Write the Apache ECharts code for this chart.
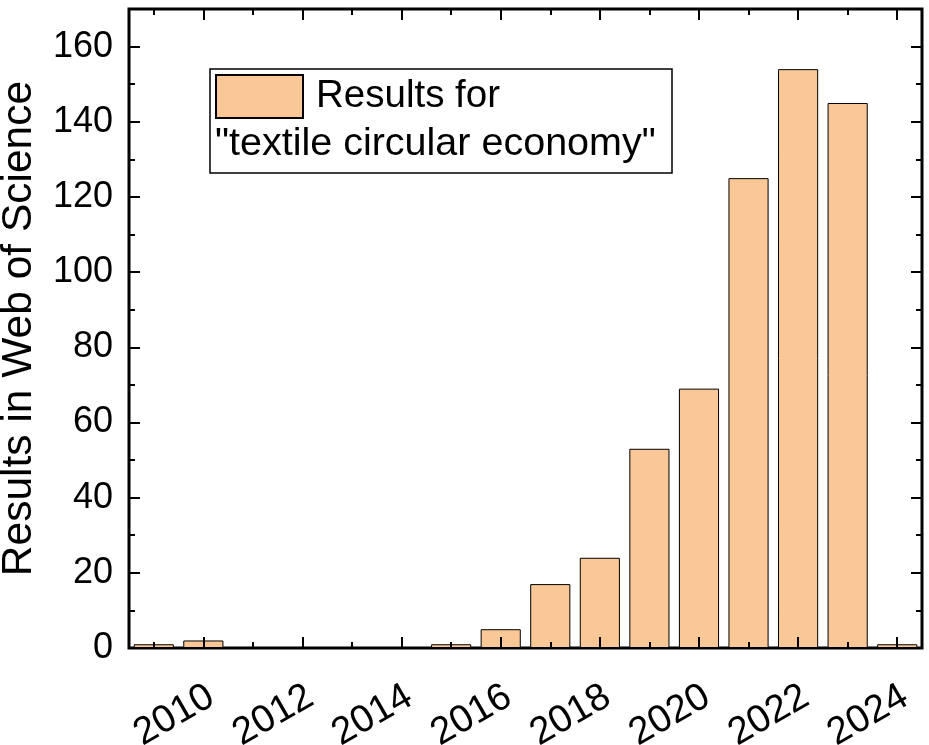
<!DOCTYPE html>
<html>
<head>
<meta charset="utf-8">
<script src="https://cdn.jsdelivr.net/npm/echarts@6/dist/echarts.min.js"></script>
<style>
html,body{margin:0;padding:0;background:#fff;}
#chart{width:929px;height:745px;}
</style>
</head>
<body>
<div id="chart"></div>
<script>
const years = ['2009','2010','2011','2012','2013','2014','2015','2016','2017','2018','2019','2020','2021','2022','2023','2024'];
const results = [1, 2, 0, 0, 0, 0, 1, 5, 17, 24, 53, 69, 125, 154, 145, 1];
const seriesName = 'Results for';
const legendSecondLine = '"textile circular economy"';
const yTitle = 'Results in Web of Science';

const FONT = '"Liberation Sans", Arial, sans-serif';
const evenYear = (i, v) => Number(v) % 2 === 0;

// plot layout
const W = 929, L = 129, R = 7, T = 9, B = 97;
const band = (W - L - R) / years.length;

const chart = echarts.init(document.getElementById('chart'), null, {renderer: 'canvas'});

// tick-only value axes living in helper grids that span year centres
function xTicks(pos, grid, max, interval, len) {
  return {
    type: 'value', gridIndex: grid, position: pos, min: 0, max: max, interval: interval, z: 3,
    axisLine: {show: false, onZero: false},
    axisTick: {show: true, inside: true, length: len, lineStyle: {color: '#000', width: 2}},
    axisLabel: {show: false},
    splitLine: {show: false}
  };
}
function yAx(pos, major, labels) {
  const a = {
    type: 'value', min: 0, max: 170, interval: major ? 20 : 10, position: pos,
    axisLine: {show: false, onZero: false},
    axisTick: {show: true, inside: true, length: major ? 11 : 6, lineStyle: {color: '#000', width: 2}},
    axisLabel: labels ? {show: true, fontSize: 36, fontFamily: FONT, color: '#000', margin: 16,
      formatter: (v) => (v % 20 === 0 && v <= 160) ? String(v) : ''} : {show: false},
    splitLine: {show: false}
  };
  if (labels) {
    a.name = yTitle;
    a.nameLocation = 'middle';
    a.nameGap = 88;
    a.nameTextStyle = {fontSize: 42.5, fontFamily: FONT, color: '#000'};
  }
  return a;
}
const hiddenY = (g) => ({type: 'value', min: 0, max: 170, gridIndex: g, show: false});
const gridBase = {top: T, bottom: B, containLabel: false, outerBoundsMode: 'none', show: false};

chart.setOption({
  animation: false,
  backgroundColor: '#fff',
  grid: [
    // 0: main plot
    Object.assign({}, gridBase, {left: L, right: R, show: true, borderColor: '#000', borderWidth: 3, backgroundColor: 'transparent'}),
    // 1: label-only grid, same scale, nudged so the rotated year labels sit like the original
    Object.assign({}, gridBase, {left: L + 8, right: R - 8}),
    // 2: major ticks, from the 2010 centre to the 2024 centre
    Object.assign({}, gridBase, {left: L + 1.5 * band, right: R + 0.5 * band}),
    // 3: minor ticks, from the 2009 centre to the 2024 centre
    Object.assign({}, gridBase, {left: L + 0.5 * band, right: R + 0.5 * band})
  ],
  legend: {
    show: true, left: 210, top: 69, orient: 'vertical',
    padding: [5, 172, 54, 5],
    borderColor: '#000', borderWidth: 1.5, backgroundColor: '#fff',
    itemWidth: 87, itemHeight: 43, icon: 'rect', selectedMode: false,
    textStyle: {fontSize: 38.5, fontFamily: FONT, color: '#000', padding: [0, 0, 0, 8]},
    data: [seriesName]
  },
  graphic: [{
    type: 'text', left: 215, top: 124, z: 100,
    style: {text: legendSecondLine, fontSize: 39.5, fontFamily: FONT, fill: '#000'}
  }],
  xAxis: [
    {type: 'category', data: years, position: 'bottom', boundaryGap: true, gridIndex: 0,
      axisLine: {show: false, onZero: false}, axisTick: {show: false}, axisLabel: {show: false}, splitLine: {show: false}},
    {type: 'category', data: years, position: 'bottom', boundaryGap: true, gridIndex: 1,
      axisLine: {show: false, onZero: false}, axisTick: {show: false}, splitLine: {show: false},
      axisLabel: {show: true, interval: evenYear, rotate: 30, fontSize: 38.5, fontFamily: FONT,
        color: '#000', margin: 46}},
    xTicks('bottom', 2, years.length - 2, 2, 11),
    xTicks('top', 2, years.length - 2, 2, 11),
    xTicks('bottom', 3, years.length - 1, 1, 6),
    xTicks('top', 3, years.length - 1, 1, 6)
  ],
  yAxis: [
    yAx('left', true, true), yAx('left', false, false), yAx('right', true, false), yAx('right', false, false),
    hiddenY(1), hiddenY(2), hiddenY(3)
  ],
  series: [{
    name: seriesName, type: 'bar', data: results, xAxisIndex: 0, yAxisIndex: 0,
    barCategoryGap: '19%',
    itemStyle: {color: '#F9C896', borderColor: '#000', borderWidth: 1}
  }]
});
</script>
</body>
</html>
